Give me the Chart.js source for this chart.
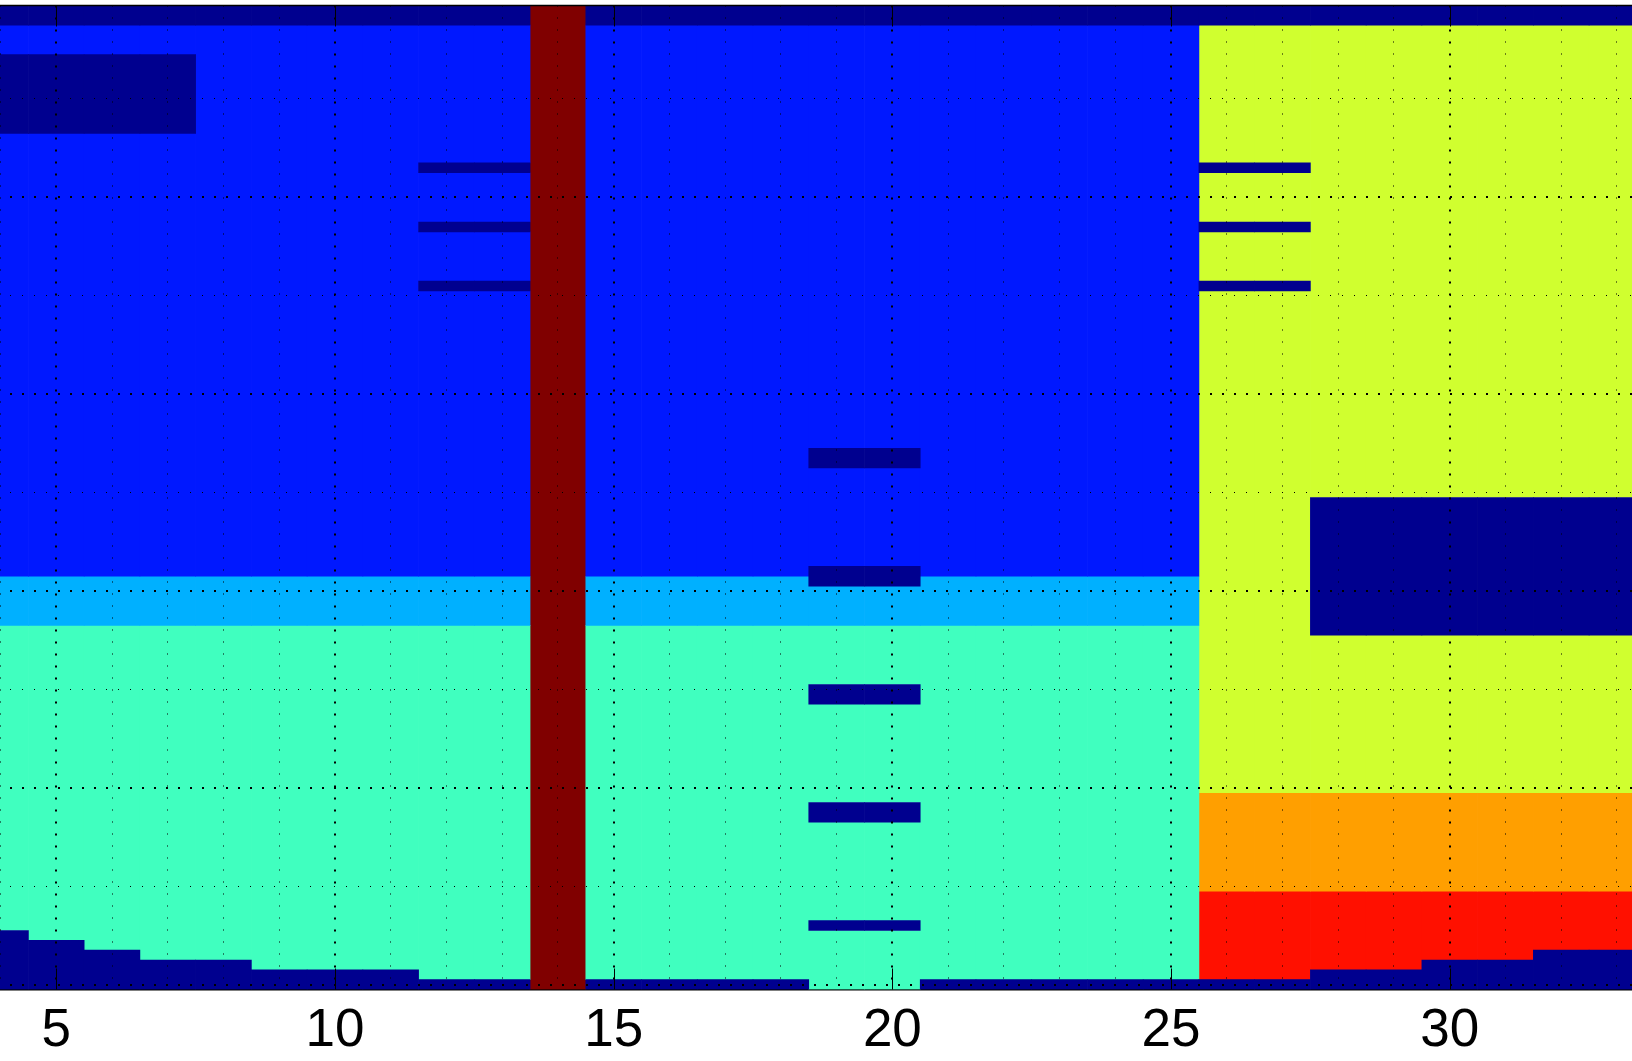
<!DOCTYPE html>
<html lang="en">
<head>
    <meta charset="UTF-8">
    <title>Cell map</title>
    <script src="https://cdn.jsdelivr.net/npm/chart.js"></script>
    <style>
        body {
            margin: 0;
            padding: 0;
            background-color: #fff;
        }

        #chart-container {
            width: 1632px;
            height: 1061px;
        }
    </style>
</head>
<body>
    <div id="chart-container">
        <canvas id="cellChart" width="1632" height="1061"></canvas>
    </div>

    <script>
        // x cell centres shown in the picture, and the labelled ticks
        const columns = [4, 5, 6, 7, 8, 9, 10, 11, 12, 13, 14, 15, 16, 17, 18, 19, 20, 21, 22, 23,
                         24, 25, 26, 27, 28, 29, 30, 31, 32, 33];
        const xTicks = [5, 10, 15, 20, 25, 30];
        const yMajorTicks = [20, 40, 60, 80, 100];
        const yMinorTicks = [10, 30, 50, 70, 90];
        const rowCount = 100;

        // colour index (jet, 64 steps) of each kind of cell
        const levels = [1, 9, 19, 28, 37, 46, 55, 64];

        // blocks of equal value: [first column, last column, first row, last row, level]
        const blocks = [
            [4, 25, 3, 58, 9],
            [4, 25, 59, 63, 19],
            [4, 25, 64, 100, 28],
            [26, 33, 3, 80, 37],
            [26, 33, 81, 90, 46],
            [26, 33, 91, 100, 55],
            [4, 33, 1, 2, 1],
            [14, 14, 1, 100, 64],
            [4, 7, 6, 13, 1],
            [12, 13, 17, 17, 1],
            [12, 13, 23, 23, 1],
            [12, 13, 29, 29, 1],
            [26, 27, 17, 17, 1],
            [26, 27, 23, 23, 1],
            [26, 27, 29, 29, 1],
            [19, 20, 46, 47, 1],
            [19, 20, 58, 59, 1],
            [19, 20, 70, 71, 1],
            [19, 20, 82, 83, 1],
            [19, 20, 94, 94, 1],
            [28, 33, 51, 64, 1]
        ];

        // number of level-1 rows at the foot of each column (same order as columns)
        const footRows = [6, 5, 4, 3, 3, 2, 2, 2, 1, 1, 0, 1, 1, 1, 1, 0, 0, 1, 1, 1,
                          1, 1, 1, 1, 2, 2, 3, 3, 4, 4];

        const levelColors = {
            1: 'rgb(0, 0, 143)',
            9: 'rgb(0, 24, 255)',
            19: 'rgb(0, 176, 255)',
            28: 'rgb(64, 255, 191)',
            37: 'rgb(208, 255, 47)',
            46: 'rgb(255, 159, 0)',
            55: 'rgb(255, 16, 0)',
            64: 'rgb(128, 0, 0)'
        };

        function buildCells() {
            const cells = {};
            columns.forEach(c => { cells[c] = new Array(rowCount + 1).fill(null); });
            blocks.forEach(([c0, c1, r0, r1, level]) => {
                for (let c = c0; c <= c1; c++) {
                    for (let r = r0; r <= r1; r++) cells[c][r] = level;
                }
            });
            columns.forEach((c, i) => {
                for (let k = 0; k < footRows[i]; k++) cells[c][rowCount - k] = 1;
            });
            return cells;
        }

        // one floating bar per run of equal cells in a column
        function buildDatasets(cells) {
            const byLevel = {};
            levels.forEach(l => { byLevel[l] = []; });
            columns.forEach(c => {
                let start = 1;
                for (let r = 2; r <= rowCount + 1; r++) {
                    if (r > rowCount || cells[c][r] !== cells[c][start]) {
                        const level = cells[c][start];
                        if (level !== null) byLevel[level].push({ x: c, y: [start - 0.5, r - 0.5] });
                        start = r;
                    }
                }
            });
            return levels.map(l => ({
                label: 'level ' + l,
                data: byLevel[l],
                backgroundColor: levelColors[l],
                borderWidth: 0,
                grouped: false,
                barPercentage: 1,
                categoryPercentage: 1
            }));
        }

        function dotted(ctx, x0, y0, x1, y1, major, offset) {
            ctx.lineWidth = major ? 2 : 1;
            ctx.setLineDash(major ? [2, 10] : [1, 11]);
            ctx.lineDashOffset = offset || 0;
            ctx.beginPath();
            ctx.moveTo(x0, y0);
            ctx.lineTo(x1, y1);
            ctx.stroke();
        }

        // dotted grid over the cells, box line on top and inward ticks
        const framePlugin = {
            id: 'frame',
            afterDatasetsDraw(chart) {
                const { ctx, chartArea: a, scales: { x, y } } = chart;
                ctx.save();
                ctx.strokeStyle = '#000';
                columns.forEach(c => {
                    const major = xTicks.includes(c);
                    let px = x.getPixelForValue(c);
                    px = major ? Math.round(px) : Math.floor(px) + 0.5;
                    if (px > a.left && px < a.right) dotted(ctx, px, a.top, px, a.bottom, major);
                });
                yMinorTicks.forEach(v => {
                    const py = Math.floor(y.getPixelForValue(v)) + 0.5;
                    dotted(ctx, a.left, py, a.right, py, false, -10);
                });
                yMajorTicks.forEach(v => {
                    const py = Math.round(y.getPixelForValue(v));
                    dotted(ctx, a.left, py, a.right, py, true, -10);
                });

                ctx.setLineDash([]);
                ctx.lineWidth = 1;
                xTicks.forEach(v => {
                    const px = Math.round(x.getPixelForValue(v)) + 0.5;
                    ctx.beginPath();
                    ctx.moveTo(px, a.bottom);
                    ctx.lineTo(px, a.bottom - 21);
                    ctx.moveTo(px, a.top);
                    ctx.lineTo(px, a.top + 21);
                    ctx.stroke();
                });
                ctx.lineWidth = 1.5;
                ctx.beginPath();
                ctx.moveTo(a.left, a.top);
                ctx.lineTo(a.right, a.top);
                ctx.stroke();
                ctx.restore();
            }
        };

        const cells = buildCells();
        const ctx = document.getElementById('cellChart').getContext('2d');
        new Chart(ctx, {
            type: 'bar',
            data: { datasets: buildDatasets(cells) },
            options: {
                responsive: false,
                animation: false,
                devicePixelRatio: 1,
                layout: { padding: { top: 5.5, left: 0, right: 0, bottom: 0 } },
                plugins: {
                    legend: { display: false },
                    tooltip: { enabled: false }
                },
                scales: {
                    x: {
                        type: 'linear',
                        min: 3.99,
                        max: 33.27,
                        offset: false,
                        z: 1,
                        afterBuildTicks: scale => { scale.ticks = xTicks.map(v => ({ value: v })); },
                        afterFit: scale => { scale.height = 71.5; },
                        grid: { display: false, drawTicks: false, offset: false },
                        border: { display: true, color: '#000', width: 1.5 },
                        ticks: {
                            color: '#000',
                            padding: 10,
                            maxRotation: 0,
                            autoSkip: false,
                            font: { family: "'Liberation Sans', Arial, sans-serif", size: 53 }
                        }
                    },
                    y: {
                        type: 'linear',
                        display: false,
                        reverse: true,
                        min: 0.5,
                        max: rowCount + 0.5
                    }
                }
            },
            plugins: [framePlugin]
        });
    </script>
</body>
</html>
